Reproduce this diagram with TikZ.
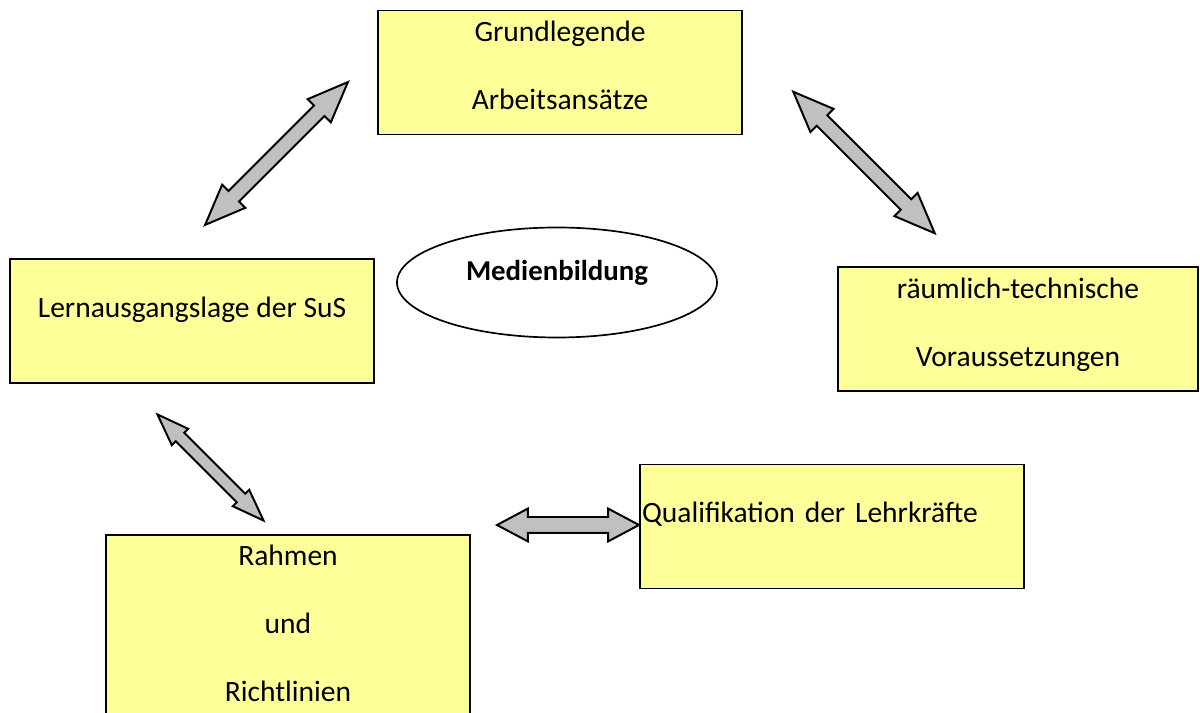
\documentclass[tikz,border=0pt]{standalone}
\usepackage{fontspec}
\setmainfont{Carlito}
\usetikzlibrary{shapes.geometric,shapes.arrows}
\definecolor{pale}{RGB}{255,255,153}
\definecolor{steel}{RGB}{192,192,192}
\tikzset{
  card/.style={draw=black,line width=1.4pt,fill=pale,minimum width=91mm,minimum height=31mm,
    align=center,text depth=3.5mm,font=\fontsize{21}{48.4}\selectfont},
  hub/.style={ellipse,draw=black,line width=1.2pt,fill=white,minimum width=80mm,minimum height=27.5mm,
    text depth=6mm,font=\fontsize{20.5}{24}\selectfont\bfseries},
  link/.style={double arrow,draw=black,line width=1.4pt,fill=steel,inner xsep=0pt,inner ysep=1.6mm,
    double arrow head extend=2.25mm,double arrow tip angle=44,minimum width=7.75mm},
}

\begin{document}
\begin{tikzpicture}[x=0.25mm,y=-0.25mm]
  \useasboundingbox (0,0) rectangle (1200,713);
  % boxes
  \node[card,minimum width=91mm] (grund) at (560,72.5) {Grundlegende\\Arbeitsansätze};
  \node[card,text depth=7mm] (lern) at (192,321) {Lernausgangslage der SuS};
  \node[card,minimum width=90mm] (raum) at (1018,329) {räumlich-technische\\Voraussetzungen};
  \node[card,minimum width=96mm,text width=95mm,align=left,inner xsep=0.5mm,text depth=7mm] (qual) at (832,526.5) {Qualifikation der Lehrkräfte};
  \node[card,minimum height=47.75mm] (rahmen) at (288,630.5) {Rahmen\\und\\Richtlinien};
  \node[hub] (medien) at (557,282.5) {Medienbildung};
  % arrows
  \node[link,rotate=45,minimum height=50.5mm] (a1) at (276.5,153.5) {};
  \node[link,rotate=-45,minimum height=50mm] (a2) at (864,162.5) {};
  \node[link,rotate=-45,minimum height=37.5mm,inner ysep=1.25mm,double arrow head extend=1.4mm,
    double arrow tip angle=40,minimum width=5.25mm] (a3) at (210.5,467.5) {};
  \node[link,minimum height=35.5mm,inner ysep=1.75mm,double arrow head extend=2.1mm,
    double arrow tip angle=56] (a4) at (568,525) {};
\end{tikzpicture}
\end{document}
